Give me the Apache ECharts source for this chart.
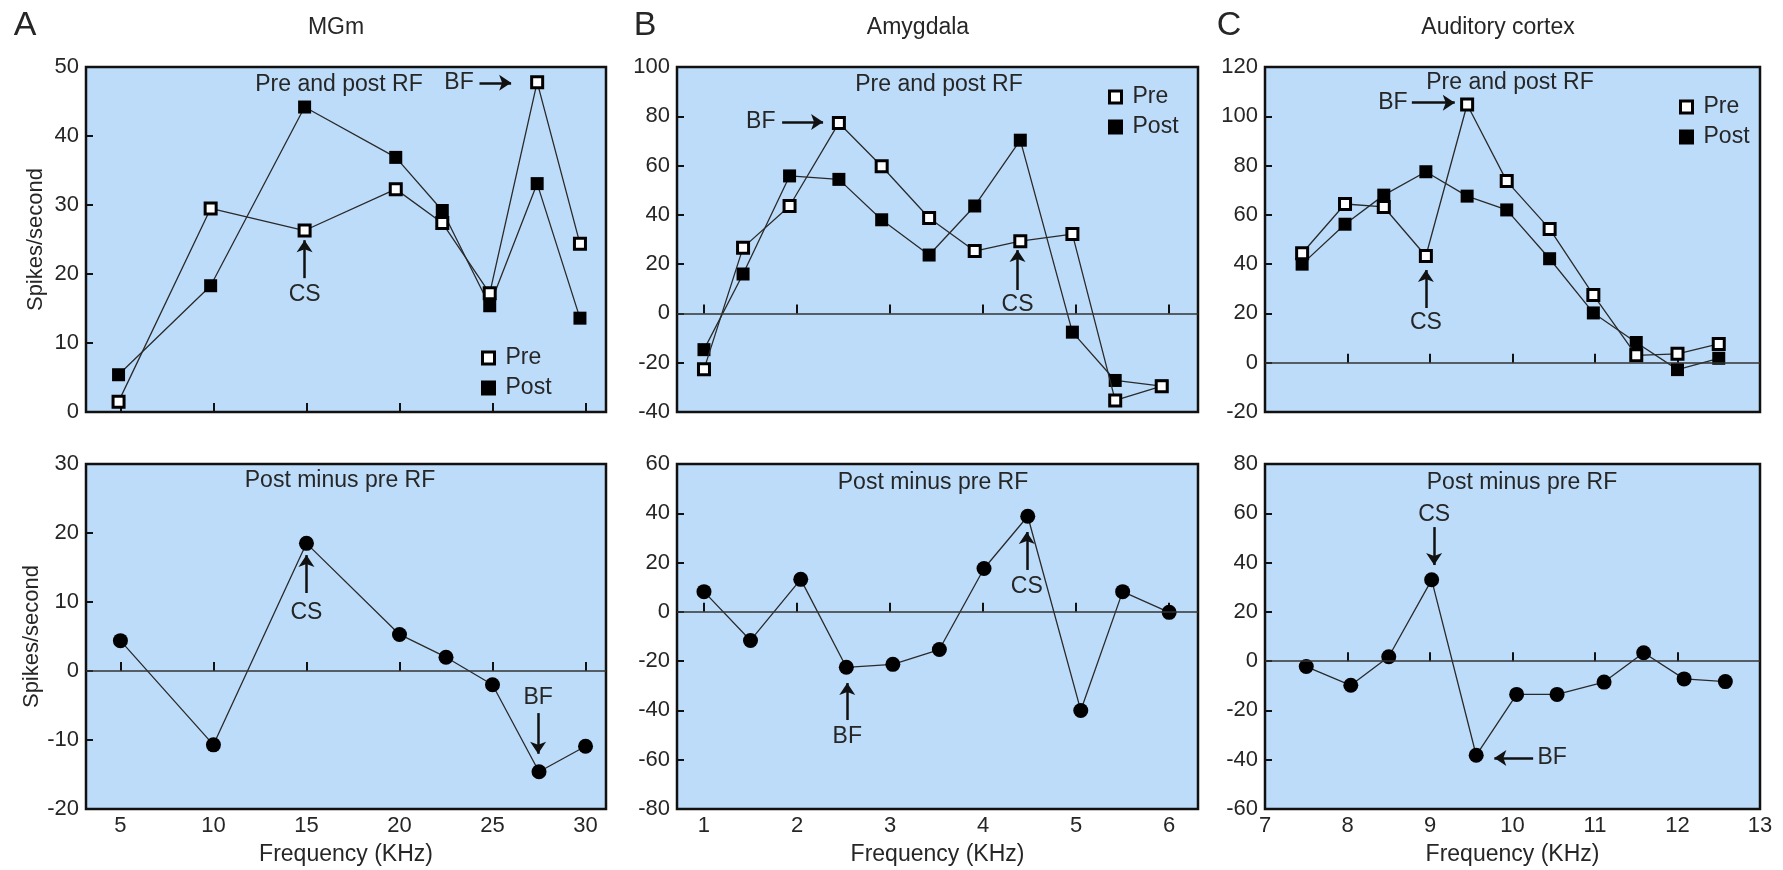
<!DOCTYPE html>
<html><head><meta charset="utf-8">
<script src="https://cdn.jsdelivr.net/npm/echarts@6/dist/echarts.min.js"></script>
<style>html,body{margin:0;padding:0;background:#fff}#c{width:1783px;height:870px}</style>
</head><body><div id="c"></div>
<script>
// ---------- DATA ----------
// Panel A (MGm)
const freqA_top = [4.9, 9.85, 14.9, 19.8, 22.3, 24.85, 27.4, 29.7];
const preA  = [1.5, 29.5, 26.3, 32.3, 27.4, 17.2, 47.8, 24.4];
const postA = [5.4, 18.3, 44.2, 36.9, 29.2, 15.4, 33.1, 13.6];
const freqA_diff = [5, 10, 15, 20, 22.5, 25, 27.5, 30];
const diffA = [4.4, -10.7, 18.5, 5.3, 2.0, -2.0, -14.6, -10.9];
// Panel B (Amygdala)
const freqB_top = [1.0, 1.42, 1.92, 2.45, 2.91, 3.42, 3.91, 4.4, 4.96, 5.42, 5.92];
const preB  = [-22.7, 26.7, 43.6, 77.3, 59.7, 38.7, 25.3, 29.3, 32.2, -35.3, -29.5];
const postB = [-14.7, 16.0, 55.8, 54.4, 38.0, 23.7, 43.6, 70.3, -7.6, -27.2, -29.5];
const freqB_diff = [1, 1.5, 2.04, 2.53, 3.03, 3.53, 4.01, 4.48, 5.05, 5.5, 6];
const diffB = [8.2, -11.6, 13.2, -22.5, -21.3, -15.3, 17.6, 38.8, -40.0, 8.2, -0.2];
// Panel C (Auditory cortex)
const freqC_top = [7.45, 7.97, 8.44, 8.95, 9.45, 9.93, 10.45, 10.98, 11.5, 12.0, 12.5];
const preC  = [44.4, 64.4, 63.2, 43.3, 104.8, 73.7, 54.3, 27.5, 3.0, 3.6, 7.6];
const postC = [40.0, 56.2, 68.0, 77.5, 67.6, 62.0, 42.2, 20.2, 8.2, -2.8, 1.8];
const freqC_diff = [7.5, 8.04, 8.5, 9.02, 9.56, 10.05, 10.54, 11.11, 11.59, 12.08, 12.58];
const diffC = [-2.2, -9.8, 1.8, 33.0, -38.2, -13.5, -13.5, -8.5, 3.4, -7.2, -8.3];
// Tick labels
const ticksA = [5, 10, 15, 20, 25, 30];
const ticksB = [1, 2, 3, 4, 5, 6];
const ticksC_tick = [8, 9, 10, 11, 12];
const ticksC_label = [7, 8, 9, 10, 11, 12, 13];

// ---------- CHART ----------
const FONT = '"Liberation Sans", Arial, Helvetica, sans-serif';
const TXT = '#262626';
const FS = 23;
const pairs = (xs, ys) => xs.map((x, i) => [x, ys[i]]);

const gridBase = {show: true, backgroundColor: '#bcdcfa', borderColor: '#111', borderWidth: 2.5};
const grids = [
  {left: 86, top: 67, width: 520, height: 345},
  {left: 677, top: 67, width: 521, height: 345},
  {left: 1265, top: 67, width: 495, height: 345},
  {left: 86, top: 464, width: 520, height: 345},
  {left: 677, top: 464, width: 521, height: 345},
  {left: 1265, top: 464, width: 495, height: 345}
].map(g => Object.assign({}, gridBase, g));

function xAxis(i, min, max, ticks, labels) {
  return {
    type: 'value', gridIndex: i, min: min, max: max,
    axisLine: {show: false},
    splitLine: {show: false},
    axisTick: {show: true, inside: true, length: 9, lineStyle: {color: '#111', width: 2}, customValues: ticks},
    axisLabel: labels ? {show: true, customValues: labels, fontSize: 22, color: TXT, fontFamily: FONT, margin: 6, showMinLabel: true, showMaxLabel: true}
                      : {show: false},
    name: labels ? 'Frequency (KHz)' : '',
    nameLocation: 'middle', nameGap: 34,
    nameTextStyle: {fontSize: FS, color: TXT, fontFamily: FONT}
  };
}
function yAxis(i, min, max, interval, named) {
  return {
    type: 'value', gridIndex: i, min: min, max: max, interval: interval,
    axisLine: {show: false},
    splitLine: {show: false},
    axisTick: {show: true, inside: true, length: 7, lineStyle: {color: '#111', width: 2}},
    axisLabel: {fontSize: 22, color: TXT, fontFamily: FONT, margin: 7},
    name: named ? 'Spikes/second' : '',
    nameLocation: 'middle', nameRotate: 90, nameGap: 39,
    nameTextStyle: {fontSize: 22, color: TXT, fontFamily: FONT}
  };
}

const lineStyle = {color: '#2a2a2a', width: 1.3};
const arrowStyle = {color: '#111', width: 2.5, type: 'solid'};
function arrow(x1, y1, x2, y2) {
  return [{coord: [x1, y1], symbol: 'none', lineStyle: arrowStyle},
          {coord: [x2, y2], symbol: 'arrow', symbolSize: 12}];
}
function note(text, x, y) {
  return {coord: [x, y], symbol: 'rect', symbolSize: 1, itemStyle: {color: 'rgba(0,0,0,0)'},
          label: {show: true, position: 'inside', formatter: text, fontSize: FS, color: TXT, fontFamily: FONT}};
}
const zeroLine = {yAxis: 0, symbol: 'none', lineStyle: {color: '#333', width: 1.6, type: 'solid'}};

function marks(lines, notes) {
  return {
    markLine: {silent: true, symbol: 'none', label: {show: false}, animation: false, data: lines},
    markPoint: {silent: true, animation: false, data: notes}
  };
}

function preSeries(i, xs, ys) {
  return {name: 'Pre', type: 'line', xAxisIndex: i, yAxisIndex: i, data: pairs(xs, ys), z: 4,
    symbol: 'rect', symbolSize: 11, lineStyle: lineStyle,
    itemStyle: {color: '#fff', borderColor: '#000', borderWidth: 3}};
}
function postSeries(i, xs, ys, extra) {
  return Object.assign({name: 'Post', type: 'line', xAxisIndex: i, yAxisIndex: i, data: pairs(xs, ys), z: 3,
    symbol: 'rect', symbolSize: 13, lineStyle: lineStyle,
    itemStyle: {color: '#000', borderColor: '#000', borderWidth: 0}}, extra || {});
}
function diffSeries(i, xs, ys, extra) {
  return Object.assign({name: 'Post minus pre', type: 'line', xAxisIndex: i, yAxisIndex: i, data: pairs(xs, ys), z: 3,
    symbol: 'circle', symbolSize: 15, lineStyle: lineStyle,
    itemStyle: {color: '#000'}}, extra || {});
}

function legend(left, top) {
  return {
    orient: 'vertical', left: left, top: top, itemWidth: 12, itemHeight: 12, itemGap: 4,
    selectedMode: false,
    textStyle: {fontSize: FS, color: TXT, fontFamily: FONT, lineHeight: 26, padding: [0, 0, 0, 6]},
    data: [
      {name: 'Pre', icon: 'rect', itemStyle: {color: '#fff', borderColor: '#000', borderWidth: 3}},
      {name: 'Post', icon: 'rect', itemStyle: {color: '#000', borderColor: '#000', borderWidth: 3}}
    ]
  };
}

function text(t, x, y, size) {
  return {type: 'text', silent: true, x: x, y: y,
    style: {text: t, font: (size || FS) + 'px ' + FONT, fill: TXT, textAlign: 'center', textVerticalAlign: 'middle', verticalAlign: 'middle'}};
}

const option = {
  animation: false,
  backgroundColor: '#fff',
  grid: grids,
  xAxis: [
    xAxis(0, 3.15, 31.1, ticksA, null),
    xAxis(1, 0.71, 6.31, ticksB, null),
    xAxis(2, 7, 13, ticksC_tick, null),
    xAxis(3, 3.15, 31.1, ticksA, ticksA),
    xAxis(4, 0.71, 6.31, ticksB, ticksB),
    xAxis(5, 7, 13, ticksC_tick, ticksC_label)
  ],
  yAxis: [
    yAxis(0, 0, 50, 10, true),
    yAxis(1, -40, 100, 20, false),
    yAxis(2, -20, 120, 20, false),
    yAxis(3, -20, 30, 10, true),
    yAxis(4, -80, 60, 20, false),
    yAxis(5, -60, 80, 20, false)
  ],
  legend: [legend(476, 340), legend(1103, 79), legend(1674, 89)],
  series: [
    preSeries(0, freqA_top, preA),
    postSeries(0, freqA_top, postA, marks(
      [arrow(14.9, 19.4, 14.9, 24.9), arrow(24.3, 47.7, 26.0, 47.7)],
      [note('CS', 14.9, 17.0), note('BF', 23.2, 47.7)])),
    preSeries(1, freqB_top, preB),
    postSeries(1, freqB_top, postB, marks(
      [zeroLine, arrow(4.37, 9.5, 4.37, 25.7), arrow(1.84, 77.7, 2.28, 77.7)],
      [note('CS', 4.37, 3.4), note('BF', 1.61, 77.7)])),
    preSeries(2, freqC_top, preC),
    postSeries(2, freqC_top, postC, marks(
      [zeroLine, arrow(8.95, 22.2, 8.95, 37.6), arrow(8.78, 105.5, 9.3, 105.5)],
      [note('CS', 8.95, 16.1), note('BF', 8.55, 105.5)])),
    diffSeries(3, freqA_diff, diffA, marks(
      [zeroLine, arrow(15, 11.3, 15, 16.8), arrow(27.45, -6.1, 27.45, -12.0)],
      [note('CS', 15, 8.4), note('BF', 27.45, -3.8)])),
    diffSeries(4, freqB_diff, diffB, marks(
      [zeroLine, arrow(2.54, -43.9, 2.54, -28.9), arrow(4.47, 17, 4.47, 32.4)],
      [note('BF', 2.54, -50.8), note('CS', 4.47, 10.1)])),
    diffSeries(5, freqC_diff, diffC, marks(
      [zeroLine, arrow(9.05, 54.4, 9.05, 39.0), arrow(10.25, -39.3, 9.78, -39.3)],
      [note('CS', 9.05, 59.3), note('BF', 10.48, -39.3)]))
  ],
  graphic: [
    text('A', 25, 26, 34), text('B', 645, 26, 34), text('C', 1229, 26, 34),
    text('MGm', 336, 28), text('Amygdala', 918, 28), text('Auditory cortex', 1498, 28),
    text('Pre and post RF', 339, 85), text('Pre and post RF', 939, 85), text('Pre and post RF', 1510, 83),
    text('Post minus pre RF', 340, 481), text('Post minus pre RF', 933, 483), text('Post minus pre RF', 1522, 483)
  ]
};

const chart = echarts.init(document.getElementById('c'), null, {renderer: 'canvas'});
chart.setOption(option);
</script>
</body></html>
